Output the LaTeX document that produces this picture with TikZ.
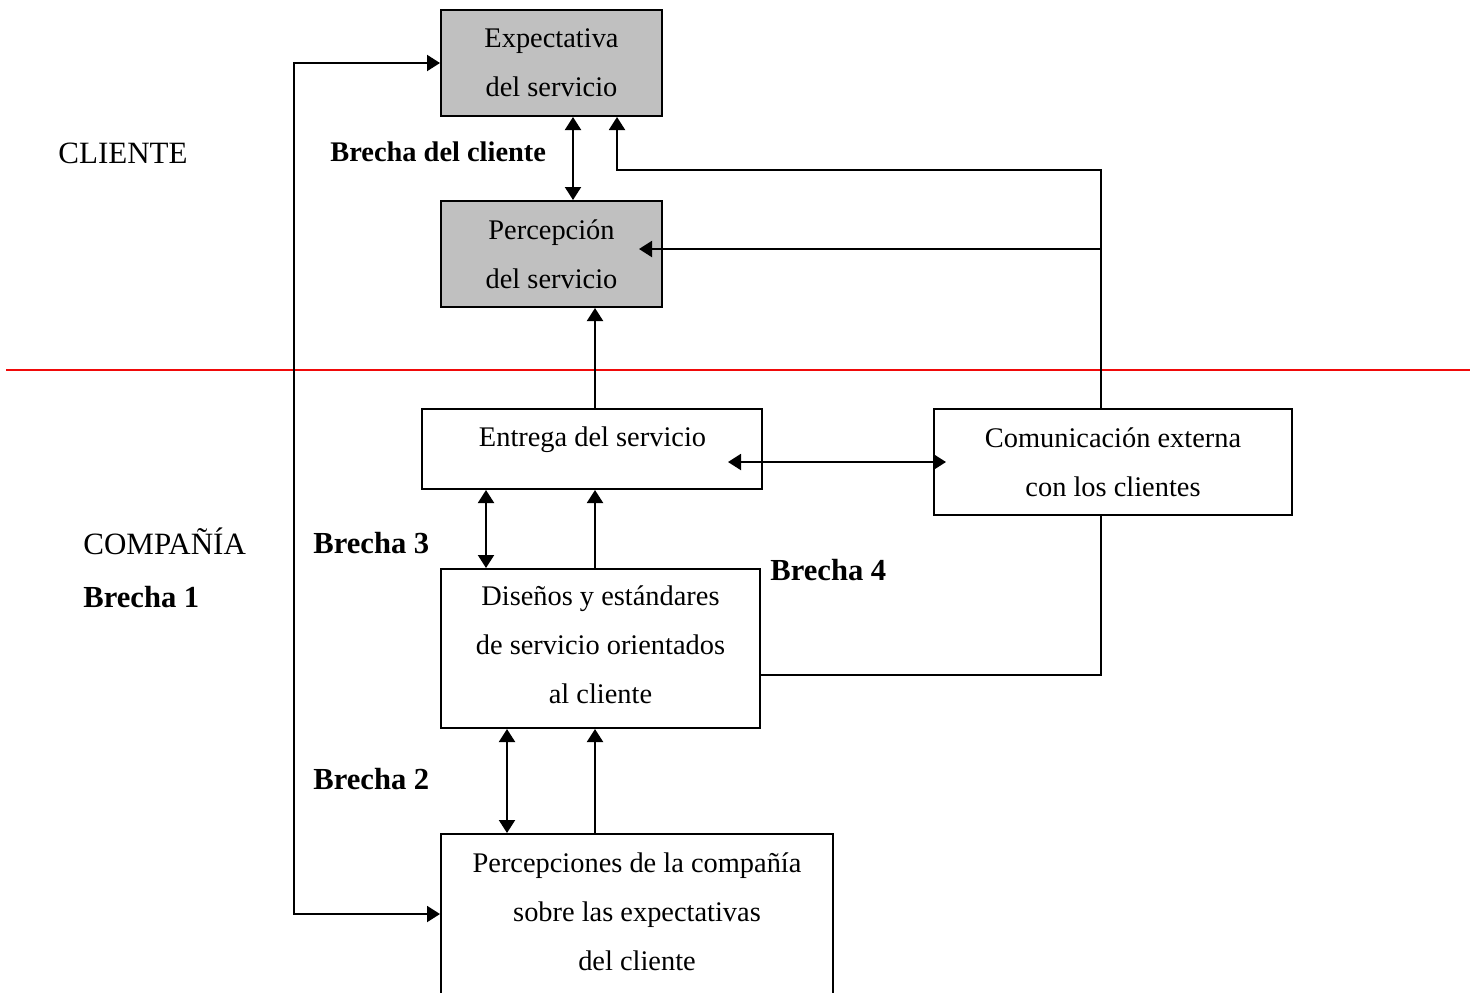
\documentclass[tikz,border=0pt]{standalone}
\usepackage{fontspec}
\setmainfont{Liberation Serif}
\usetikzlibrary{arrows.meta}

\definecolor{boxgray}{RGB}{192,192,192}
\definecolor{divider}{RGB}{240,10,10}

\begin{document}
\begin{tikzpicture}[
  x=0.5pt, y=-0.5pt,
  box/.style={draw=black, line width=1pt, inner sep=0pt, align=center,
    font=\fontsize{14.2pt}{24.5pt}\selectfont},
  shaded/.style={box, fill=boxgray},
  boxtext/.style={inner sep=0pt, font=\fontsize{14.2pt}{24.5pt}\selectfont},
  side/.style={inner sep=0pt, anchor=base west, font=\fontsize{15.5pt}{18pt}\selectfont},
  gap/.style={inner sep=0pt, anchor=base west, font=\fontsize{15.3pt}{18pt}\selectfont\bfseries},
  link/.style={line width=1pt},
  arrow/.style={link, -{Triangle[length=6.5pt, width=8pt]}},
  both/.style={link, {Triangle[length=6.5pt, width=8pt]}-{Triangle[length=6.5pt, width=8pt]}}
]
\useasboundingbox (0,0) rectangle (1475,992);

% dividing line between customer and company
\draw[divider, line width=1pt] (6,370) -- (1470,370);

% boxes
\node[shaded, minimum width=110.5pt, minimum height=53pt] (E) at (551.5,63)
  {Expectativa\\del servicio};
\node[shaded, minimum width=110.5pt, minimum height=53pt] (P) at (551.5,254)
  {Percepción\\del servicio};
\node[box, minimum width=170pt, minimum height=40pt] (Ent) at (592,449) {};
\node[boxtext] (EntT) at (592.5,440) {Entrega del servicio};
\node[box, minimum width=179pt, minimum height=53pt] (Com) at (1113,462)
  {Comunicación externa\\con los clientes};
\node[box, minimum width=159.5pt, minimum height=79.5pt, text depth=4pt] (D) at (600.5,648.5)
  {Diseños y estándares\\de servicio orientados\\al cliente};
\node[box, minimum width=196pt, minimum height=80pt, text depth=2pt] (PC) at (637,914)
  {Percepciones de la compañía\\sobre las expectativas\\del cliente};

% side labels
\node[side] (cli) at (58,163) {CLIENTE};
\node[side] (comp) at (83,554) {COMPAÑÍA};
\node[gap] (b1) at (83,607) {Brecha 1};
\node[gap, font=\fontsize{14.2pt}{18pt}\selectfont\bfseries] (bc) at (330,161) {Brecha del cliente};
\node[gap] (b3) at (313,553) {Brecha 3};
\node[gap] (b4) at (770,580) {Brecha 4};
\node[gap] (b2) at (313,789) {Brecha 2};

% routing points
\coordinate (loop) at (294,500);
\coordinate (cg) at (573,0);
\coordinate (fb) at (1101,170);
\coordinate (fbx) at (617,170);
\coordinate (pb) at (1101,249);
\coordinate (ptip) at (639,249);
\coordinate (up) at (595,0);
\coordinate (etipL) at (728,462);
\coordinate (etipR) at (946,462);
\coordinate (g3) at (486,0);
\coordinate (g2) at (507,0);
\coordinate (dl) at (1101,675);

% connectors
\draw[both] (E.west) -- (E.west -| loop) -- (PC.west -| loop) -- (PC.west);
\draw[both] (E.south -| cg) -- (P.north -| cg);
\draw[arrow] (Com.north -| fb) -- (fb) -- (fbx) -- (E.south -| fbx);
\draw[arrow] (pb) -- (ptip);
\draw[arrow] (Ent.north -| up) -- (P.south -| up);
\draw[both] (etipL) -- (etipR);
\draw[both] (Ent.south -| g3) -- (D.north -| g3);
\draw[arrow] (D.north -| up) -- (Ent.south -| up);
\draw[link] (D.east |- dl) -- (dl) -- (Com.south -| dl);
\draw[both] (D.south -| g2) -- (PC.north -| g2);
\draw[arrow] (PC.north -| up) -- (D.south -| up);
\end{tikzpicture}
\end{document}
